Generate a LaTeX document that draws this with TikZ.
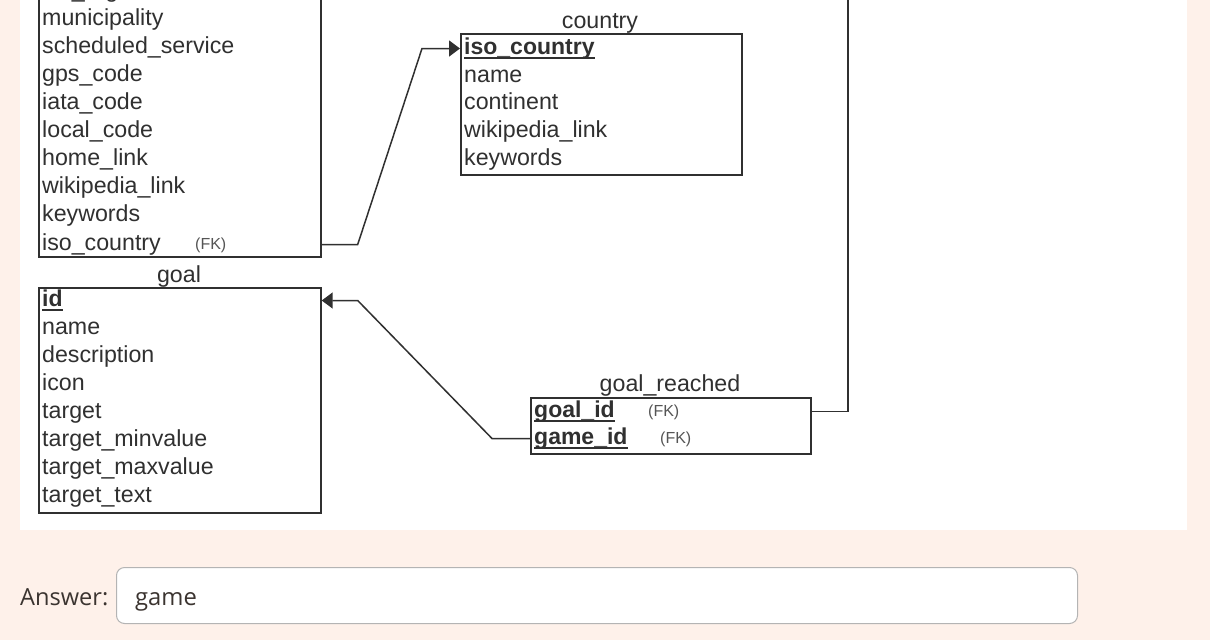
\documentclass[tikz,border=0pt]{standalone}
\usepackage{fontspec}
\setmainfont{Liberation Sans}
\newfontfamily\osans{Open Sans}
\usetikzlibrary{arrows.meta}
\definecolor{bgpeach}{HTML}{FEF1EA}
\definecolor{ink}{HTML}{303030}
\definecolor{fkgrey}{HTML}{555555}
\definecolor{anstext}{HTML}{3B3430}
\definecolor{boxgrey}{HTML}{B4B4B4}
\begin{document}
\begin{tikzpicture}[x=1pt,y=-1pt,
  tbl/.style={draw=ink, line width=1.7pt, fill=white, inner sep=0pt, rectangle},
  row/.style={anchor=base west, inner sep=0pt, text height=16pt, text depth=5pt,
              font=\fontsize{23.2}{26}\selectfont, text=ink},
  keyrow/.style={row, font=\fontsize{23}{26}\bfseries\selectfont},
  ttl/.style={anchor=base, inner sep=0pt, font=\fontsize{23.2}{26}\selectfont, text=ink},
  fk/.style={anchor=base west, inner sep=0pt, font=\fontsize{16}{18}\selectfont, text=fkgrey},
  ul/.style={draw=ink, line width=1.7pt},
  conn/.style={draw=ink, line width=1.5pt},
  tip/.style={-{Triangle[length=11pt,width=16pt]}}
]
\useasboundingbox (0,0) rectangle (1210,640);
\fill[bgpeach] (0,0) rectangle (1210,640);
\fill[white] (20,0) rectangle (1187,530);

% airport (truncated at the top)
\node[tbl, anchor=south west, minimum width=282pt, minimum height=320pt] (airport) at (38,258) {};
\node[row] (a0) at (42,-3) {iso\_region};
\node[row] (a1) at (42,25) {municipality};
\node[row] (a2) at (42,53) {scheduled\_service};
\node[row] (a3) at (42,81) {gps\_code};
\node[row] (a4) at (42,109) {iata\_code};
\node[row] (a5) at (42,137) {local\_code};
\node[row] (a6) at (42,165) {home\_link};
\node[row] (a7) at (42,193) {wikipedia\_link};
\node[row] (a8) at (42,221) {keywords};
\node[row] (a9) at (42,250) {iso\_country};
\node[fk] (a9fk) at (195,249) {(FK)};

% country
\node[tbl, anchor=north west, minimum width=281pt, minimum height=141pt] (country) at (460,33) {};
\node[ttl] (countryttl) at (600,28) {country};
\node[keyrow] (c1) at (464,54) {iso\_country};
\node[row] (c2) at (464,82) {name};
\node[row] (c3) at (464,109) {continent};
\node[row] (c4) at (464,137) {wikipedia\_link};
\node[row] (c5) at (464,165) {keywords};
\draw[ul] ([yshift=-4pt]c1.base west) -- ([yshift=-4pt]c1.base east);

% goal
\node[tbl, anchor=north west, minimum width=282pt, minimum height=225pt] (goal) at (38,287) {};
\node[ttl] (goalttl) at (179,282) {goal};
\node[keyrow] (g1) at (42,306) {id};
\node[row] (g2) at (42,334) {name};
\node[row] (g3) at (42,362) {description};
\node[row] (g4) at (42,390) {icon};
\node[row] (g5) at (42,418) {target};
\node[row] (g6) at (42,446) {target\_minvalue};
\node[row] (g7) at (42,474) {target\_maxvalue};
\node[row] (g8) at (42,502) {target\_text};
\draw[ul] ([yshift=-4pt]g1.base west) -- ([yshift=-4pt]g1.base east);

% goal_reached
\node[tbl, anchor=north west, minimum width=280pt, minimum height=56pt] (gr) at (530,397) {};
\node[ttl] (grttl) at (670,391) {goal\_reached};
\node[keyrow] (r1) at (534,417) {goal\_id};
\node[fk] (r1fk) at (648,416) {(FK)};
\node[keyrow] (r2) at (534,444) {game\_id};
\node[fk] (r2fk) at (660,443) {(FK)};
\draw[ul] ([yshift=-4pt]r1.base west) -- ([yshift=-4pt]r1.base east);
\draw[ul] ([yshift=-4pt]r2.base west) -- ([yshift=-4pt]r2.base east);

% connectors
\coordinate (gametop) at (848,-10);
\draw[conn, tip] (airport.east |- a9) -- ++(36,0) -- ([xshift=-38pt]country.west |- c1) -- (country.west |- c1);
\draw[conn, tip] (gr.west |- r2) -- ++(-38,0) -- ([xshift=36pt]goal.east |- g1) -- (goal.east |- g1);
\draw[conn] (gr.east |- r1) -- (gametop |- r1) -- (gametop);

% answer area
\node[anchor=base west, inner sep=0pt, font=\osans\fontsize{23.6}{26}\selectfont, text=anstext] (anslbl) at (20,605) {Answer:};
\node[draw=boxgrey, line width=1pt, fill=white, rounded corners=8pt, anchor=north west,
      minimum width=961pt, minimum height=56pt, inner sep=0pt] (ansbox) at (116,567) {};
\node[anchor=base west, inner sep=0pt, font=\osans\fontsize{23.8}{26}\selectfont, text=anstext] (ansval) at (135,605) {game};
\end{tikzpicture}
\end{document}
